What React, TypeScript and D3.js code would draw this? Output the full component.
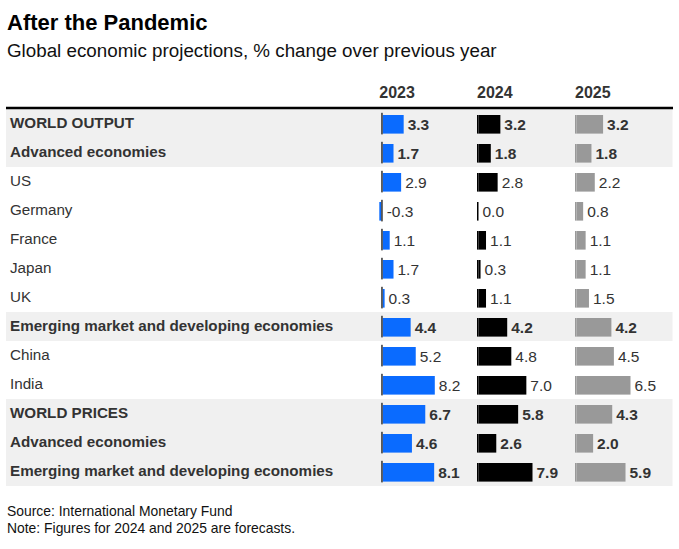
import React from "react";
import * as d3 from "d3";

const categories = [
  "WORLD OUTPUT",
  "Advanced economies",
  "US",
  "Germany",
  "France",
  "Japan",
  "UK",
  "Emerging market and developing economies",
  "China",
  "India",
  "WORLD PRICES",
  "Advanced economies",
  "Emerging market and developing economies",
];
const boldRows = [true, true, false, false, false, false, false, true, false, false, true, true, true];
const years = ["2023", "2024", "2025"];
const v2023 = [3.3, 1.7, 2.9, -0.3, 1.1, 1.7, 0.3, 4.4, 5.2, 8.2, 6.7, 4.6, 8.1];
const v2024 = [3.2, 1.8, 2.8, 0.0, 1.1, 0.3, 1.1, 4.2, 4.8, 7.0, 5.8, 2.6, 7.9];
const v2025 = [3.2, 1.8, 2.2, 0.8, 1.1, 1.1, 1.5, 4.2, 4.5, 6.5, 4.3, 2.0, 5.9];
const seriesValues = [v2023, v2024, v2025];

const W = 679;
const H = 549;
const FONT = "'Liberation Sans', Arial, Helvetica, sans-serif";
const colColors = ["#0a6bff", "#000000", "#999999"];
const axisColors = ["#333333", "#000000", "#999999"];
const colLeft = [379.3, 477, 575];
const barSpan = 54;
const lineW = 1.5;

export default function App() {
  const rowScale = d3
    .scaleBand<number>()
    .domain(categories.map((_, i) => i))
    .range([109, 486])
    .paddingInner(0);
  const rowH = rowScale.bandwidth();

  const colScales = seriesValues.map((vals, c) => {
    const lo = Math.min(0, d3.min(vals) as number);
    const hi = d3.max(vals) as number;
    return d3.scaleLinear().domain([lo, hi]).range([colLeft[c], colLeft[c] + barSpan]);
  });

  return (
    <svg
      width={W}
      height={H}
      style={{ position: "absolute", left: 0, top: 0, background: "#fff" }}
      fontFamily={FONT}
    >
      <text x={7} y={30} fontSize={22} fontWeight="bold" fill="#000">
        After the Pandemic
      </text>
      <text x={7} y={56.5} fontSize={18.8} fill="#111">
        Global economic projections, % change over previous year
      </text>

      {years.map((y, c) => (
        <text key={y} x={colLeft[c]} y={97.5} fontSize={16} fontWeight="bold" fill="#333">
          {y}
        </text>
      ))}

      {categories.map((_, i) =>
        boldRows[i] ? (
          <rect key={"bg" + i} x={6} y={rowScale(i)} width={666.5} height={rowH} fill="#f0f0f0" />
        ) : null
      )}

      <line x1={6} x2={673} y1={108} y2={108} stroke="#000" strokeWidth={2.5} />

      {categories.map((name, i) => {
        const top = rowScale(i) as number;
        return (
          <g key={"row" + i}>
            <text
              x={10}
              y={top + 18.5}
              fontSize={15.2}
              fontWeight={boldRows[i] ? "bold" : "normal"}
              fill="#333"
            >
              {name}
            </text>
            {seriesValues.map((vals, c) => {
              const s = colScales[c];
              const v = vals[i];
              const x0 = s(0);
              const xv = s(v);
              const barY = top + 6;
              const barH = 18.6;
              const barX = v >= 0 ? x0 + lineW : xv;
              const barW = Math.abs(xv - x0);
              const labelX = Math.max(xv, x0) + lineW + 4;
              return (
                <g key={"c" + c}>
                  <rect x={barX} y={barY} width={barW} height={barH} fill={colColors[c]} />
                  {c === 0 ? (
                    <rect x={x0} y={top + 3.8} width={lineW} height={21.6} fill={axisColors[c]} />
                  ) : (
                    <rect x={x0} y={barY} width={lineW} height={barH} fill={axisColors[c]} />
                  )}
                  <text
                    x={labelX}
                    y={top + 21}
                    fontSize={15.5}
                    fontWeight={boldRows[i] ? "bold" : "normal"}
                    fill="#333"
                  >
                    {v.toFixed(1)}
                  </text>
                </g>
              );
            })}
          </g>
        );
      })}

      <text x={7} y={516} fontSize={13.9} fill="#111">
        Source: International Monetary Fund
      </text>
      <text x={7} y={533} fontSize={13.9} fill="#111">
        Note: Figures for 2024 and 2025 are forecasts.
      </text>
    </svg>
  );
}
